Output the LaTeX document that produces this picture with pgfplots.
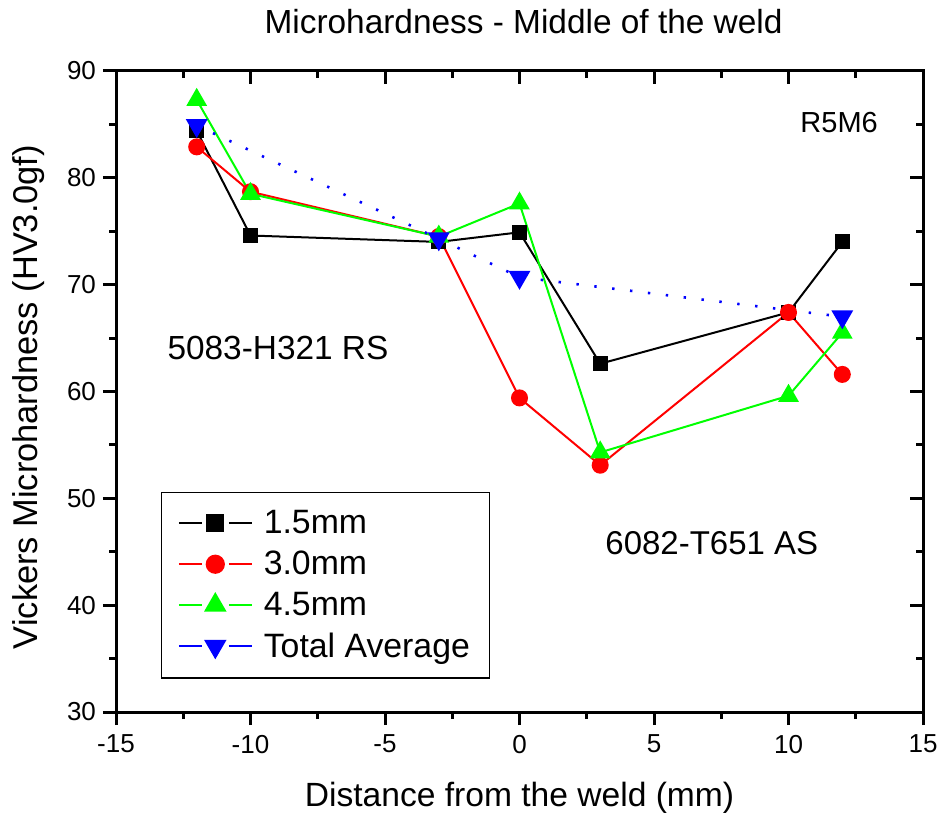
\documentclass[border=0pt]{standalone}
\usepackage{fontspec}
\setmainfont{Liberation Sans}
\usepackage{pgfplots}
\pgfplotsset{compat=1.18}

\begin{document}
\begin{tikzpicture}
\pgfplotsset{
  frame/.style={
    scale only axis, width=403.5pt, height=320.5pt,
    xmin=-15, xmax=15, ymin=30, ymax=90,
    xtick={-15,-10,...,15}, ytick={30,40,...,90},
    minor xtick={-12.5,-7.5,...,12.5}, minor ytick={35,45,...,85},
    axis line style={line width=1.5pt},
    major tick length=6.5pt, minor tick length=3.5pt,
    tick style={black, line width=1.5pt},
  }
}
\begin{axis}[frame,
  tick align=outside, xtick pos=left, ytick pos=left,
  ticklabel style={font=\fontsize{13}{15}\selectfont},
  xticklabel style={yshift=-1.5pt},
  /pgf/number format/assume math mode=true,
  title={Microhardness - Middle of the weld},
  title style={font=\fontsize{16.7}{19}\selectfont, at={(axis description cs:0.505,1.039)}, anchor=base},
  xlabel={Distance from the weld (mm)},
  xlabel style={font=\fontsize{16.8}{19}\selectfont, at={(axis description cs:0.5,-0.147)}, anchor=base},
  ylabel={Vickers Microhardness (HV3.0gf)},
  ylabel style={font=\fontsize{17.2}{19}\selectfont, at={(axis description cs:-0.0967,0.4914)}, anchor=base, rotate=0},
  legend style={at={(axis description cs:0.056,0.052)}, anchor=south west,
    draw=black, line width=0.6pt, font=\fontsize{16.9}{19}\selectfont,
    inner xsep=8pt, inner ysep=7pt, row sep=3.2pt},
  legend cell align=left,
  legend image code/.code={%
    \draw[mark=none] (0pt,0pt)--(11.5pt,0pt) (25pt,0pt)--(36.5pt,0pt);
    \draw[draw=none] plot coordinates {(18.25pt,0pt)};
    \path (40pt,0pt);},
  clip=false,
]
\addplot[black, line width=1pt, mark=square*, mark size=3.25pt,
  legend image post style={mark size=4pt}]
  coordinates {(-12,84.4) (-10,74.6) (-3,74.0) (0,74.9) (3,62.6) (10,67.4) (12,74.0)};
\addlegendentry{1.5mm}
\addplot[red, line width=1pt, mark=*, mark size=3.75pt,
  legend image post style={mark size=4.3pt}]
  coordinates {(-12,82.9) (-10,78.7) (-3,74.5) (0,59.4) (3,53.1) (10,67.4) (12,61.6)};
\addlegendentry{3.0mm}
\addplot[green, line width=1pt, mark=triangle*, mark size=5pt,
  legend image post style={mark size=5.5pt}]
  coordinates {(-12,87.3) (-10,78.5) (-3,74.5) (0,77.6) (3,54.3) (10,59.6) (12,65.5)};
\addlegendentry{4.5mm}
\addplot[blue, line width=1.3pt, dash pattern=on 1.2pt off 7.8pt,
  mark=triangle*, mark size=5pt, mark options={solid, rotate=180},
  legend image post style={solid, line width=1pt, mark size=5.5pt}]
  coordinates {(-12,84.9) (-3,74.3) (0,70.7) (12,67.0)};
\addlegendentry{Total Average}
\node[anchor=west, inner sep=0pt, font=\fontsize{16.7}{19}\selectfont] at (axis cs:-13.1,64.1) {5083-H321 RS};
\node[anchor=west, inner sep=0pt, font=\fontsize{16.5}{19}\selectfont] at (axis cs:3.18,45.8) {6082-T651 AS};
\node[anchor=west, inner sep=0pt, font=\fontsize{14.5}{17}\selectfont] at (axis cs:10.43,85.2) {R5M6};
\path (rel axis cs:0,0) ++(-58pt,-53pt) coordinate (bl);
\path (rel axis cs:1,1) ++(10.5pt,35.5pt) coordinate (tr);
\end{axis}
\begin{axis}[frame, tick align=inside, xtick pos=right, ytick pos=right,
  xticklabels={}, yticklabels={}]
\end{axis}
\pgfresetboundingbox
\useasboundingbox (bl) rectangle (tr);
\end{tikzpicture}
\end{document}
